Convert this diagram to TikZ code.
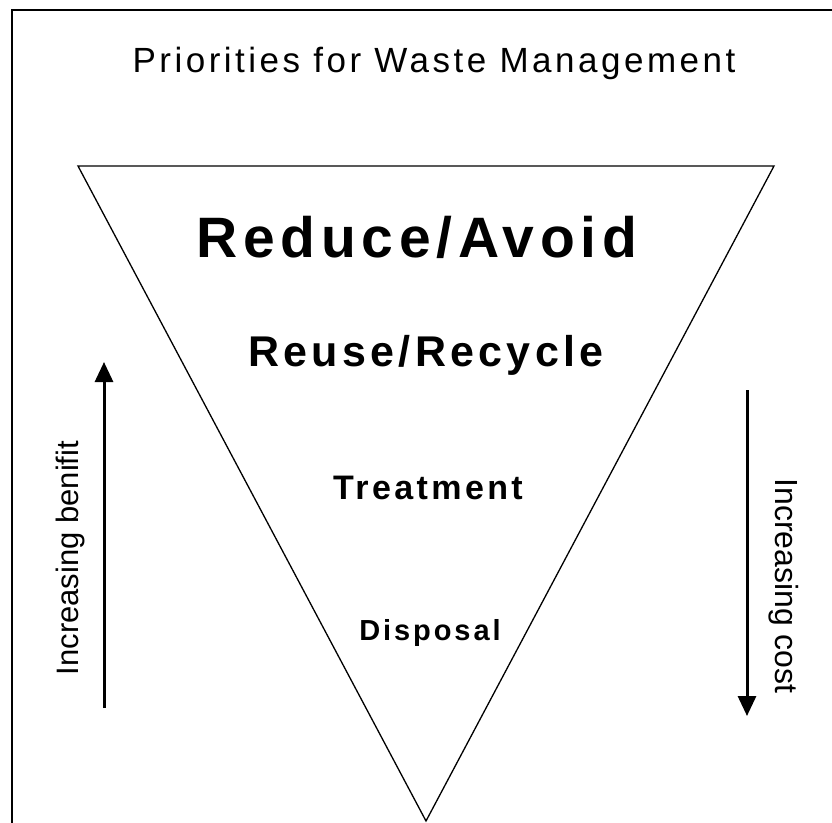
\documentclass[tikz,border=0pt]{standalone}
\usepackage{fontspec}
\setmainfont{Liberation Sans}
\newfontfamily\tracked[LetterSpace=10]{Liberation Sans}
\usetikzlibrary{arrows.meta}

\begin{document}
\begin{tikzpicture}[x=1pt,y=-1pt,
  heading/.style={font=\tracked\fontsize{35}{40}\selectfont, anchor=base, inner sep=0pt},
  level/.style={font=\tracked\bfseries, anchor=base, inner sep=0pt},
  side/.style={font=\fontsize{31}{36}\selectfont, inner sep=0pt},
  arr/.style={-{Triangle[length=20pt,width=18pt]}, line width=3pt}]
\useasboundingbox (0,0) rectangle (832,822);
\clip (0,0) rectangle (832,822);
% frame, running off the page on the right and bottom
\draw[line width=1.8pt] (12,10) rectangle (900,900);
\node[heading] (title) at (434,72) {Priorities for Waste Management};
% inverted triangle
\coordinate (tl) at (78,166);
\coordinate (tr) at (774,166);
\coordinate (apex) at (426,821);
\draw[line width=1.3pt] (tl) -- (tr) -- (apex) -- cycle;
\node[level, font=\tracked\bfseries\fontsize{57}{60}\selectfont] (reduce) at (417,257) {Reduce/Avoid};
\node[level, font=\tracked\bfseries\fontsize{43}{48}\selectfont] (reuse) at (426,366) {Reuse/Recycle};
\node[level, font=\tracked\bfseries\fontsize{34}{40}\selectfont] (treat) at (428,499) {Treatment};
\node[level, font=\tracked\bfseries\fontsize{29}{34}\selectfont] (disp) at (430,640) {Disposal};
% side arrows
\coordinate (benLo) at (104,708);
\coordinate (benHi) at (104,362);
\draw[arr] (benLo) -- (benHi);
\node[side, rotate=90] (benefit) at (70,558) {Increasing benifit};
\coordinate (costHi) at (747,390);
\coordinate (costLo) at (747,716);
\draw[arr] (costHi) -- (costLo);
\node[side, rotate=-90, font=\fontsize{32}{36}\selectfont] (cost) at (784,586) {Increasing cost};
\end{tikzpicture}
\end{document}
